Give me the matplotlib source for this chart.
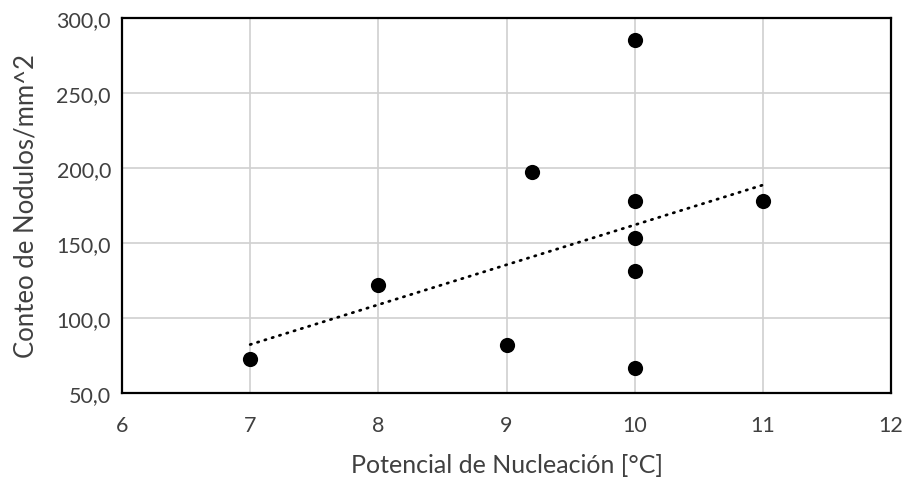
import numpy as np
import matplotlib
matplotlib.use("Agg")
import matplotlib.pyplot as plt
from matplotlib.ticker import FuncFormatter

# Nucleation potential [°C] and nodule count per mm^2
potencial = [7, 8, 9, 9.2, 10, 10, 10, 10, 10, 11]
nodulos = [72.6, 122.3, 82.1, 197.0, 285.0, 178.0, 153.5, 131.3, 66.6, 178.0]

x_ticks = [6, 7, 8, 9, 10, 11, 12]
y_ticks = [50, 100, 150, 200, 250, 300]

plt.rcParams['font.family'] = ['Lato', 'DejaVu Sans']

fig = plt.figure(figsize=(9.08, 4.81), dpi=100)
ax = fig.add_axes([0.1344, 0.1809, 0.8469, 0.7796])

# linear trend line across the data range
x = np.array(potencial, dtype=float)
y = np.array(nodulos, dtype=float)
slope, intercept = np.polyfit(x, y, 1)
xs = np.array([x.min(), x.max()])
ax.plot(xs, slope * xs + intercept, color='black', lw=2.0,
        linestyle=(0, (0.45, 2.3)), dash_capstyle='round', zorder=3)

ax.scatter(potencial, nodulos, s=120, color='black', zorder=4, linewidths=0)

ax.set_xlim(6, 12)
ax.set_ylim(50, 300)
ax.set_xticks(x_ticks)
ax.set_yticks(y_ticks)
ax.yaxis.set_major_formatter(FuncFormatter(lambda v, p: f"{v:.1f}".replace('.', ',')))

ax.grid(True, color='#d0d0d0', lw=1.2, zorder=0)
ax.set_axisbelow(True)
for s in ax.spines.values():
    s.set_linewidth(1.6)
    s.set_color('black')

ax.tick_params(axis='both', length=0, labelsize=15.5, colors='#404040')
ax.tick_params(axis='x', pad=16)
ax.tick_params(axis='y', pad=8)

ax.set_xlabel('Potencial de Nucleación [°C]', fontsize=18, color='#404040', labelpad=13)
ax.set_ylabel('Conteo de Nodulos/mm^2', fontsize=18.5, color='#404040', labelpad=13)

fig.savefig('out.png', dpi=100)
